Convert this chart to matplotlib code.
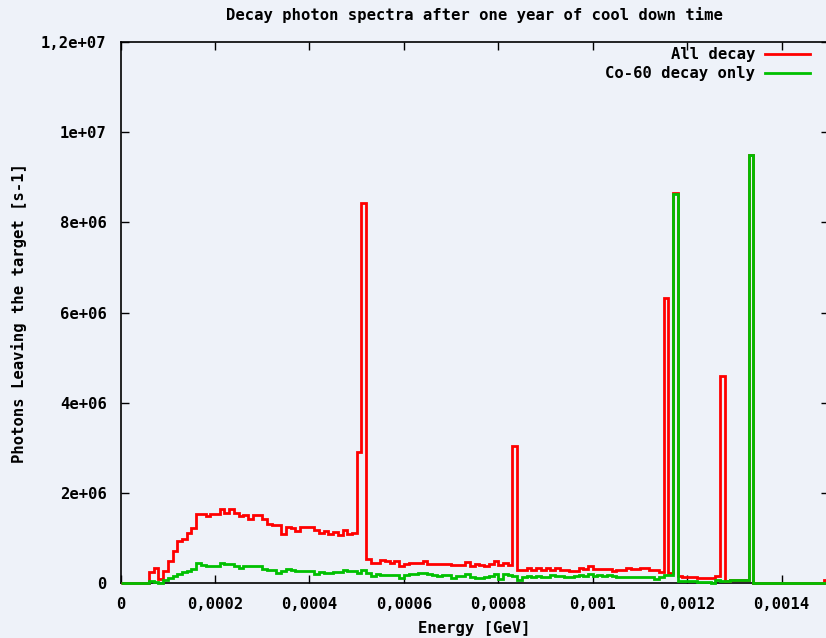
import numpy as np
import matplotlib
matplotlib.use("Agg")
import matplotlib.pyplot as plt
from matplotlib.lines import Line2D

# histogram: 150 bins of 10 keV between 0 and 0.0015 GeV
bin_width = 1e-5
n_bins = 150
energy_edges = np.arange(n_bins + 1) * bin_width

# All decay (photons / s per bin)
all_decay = [
    0, 0, 0, 0, 0, 0, 250e3, 347e3, 103e3, 273e3,
    495e3, 717e3, 939e3, 990e3, 1.12e6, 1.23e6, 1.53e6, 1.53e6, 1.49e6, 1.53e6,
    1.53e6, 1.64e6, 1.56e6, 1.64e6, 1.56e6, 1.49e6, 1.51e6, 1.43e6, 1.51e6, 1.51e6,
    1.43e6, 1.32e6, 1.29e6, 1.29e6, 1.10e6, 1.25e6, 1.23e6, 1.15e6, 1.25e6, 1.25e6,
    1.25e6, 1.18e6, 1.12e6, 1.16e6, 1.09e6, 1.14e6, 1.06e6, 1.18e6, 1.10e6, 1.12e6,
    2.91e6, 8.42e6, 547e3, 458e3, 458e3, 510e3, 488e3, 458e3, 495e3, 377e3,
    436e3, 451e3, 451e3, 451e3, 495e3, 436e3, 436e3, 421e3, 421e3, 421e3,
    399e3, 399e3, 399e3, 473e3, 384e3, 436e3, 414e3, 377e3, 436e3, 488e3,
    399e3, 458e3, 399e3, 3.05e6, 288e3, 288e3, 340e3, 288e3, 340e3, 288e3,
    340e3, 303e3, 340e3, 303e3, 303e3, 273e3, 273e3, 335e3, 310e3, 377e3,
    310e3, 310e3, 310e3, 310e3, 273e3, 288e3, 288e3, 347e3, 310e3, 310e3,
    347e3, 347e3, 288e3, 288e3, 251e3, 6.33e6, 230e3, 8.66e6, 155e3, 150e3,
    140e3, 140e3, 126e3, 126e3, 126e3, 126e3, 162e3, 4.60e6, 52e3, 81e3,
    67e3, 81e3, 81e3, 9.49e6, 0, 0, 0, 0, 0, 0,
    0, 0, 0, 0, 0, 0, 0, 0, 0, 70e3,
]

# Co-60 decay only
co60_decay = [
    0, 0, 0, 0, 0, 0, 40e3, 20e3, 10e3, 80e3,
    110e3, 155e3, 214e3, 250e3, 270e3, 320e3, 440e3, 400e3, 390e3, 390e3,
    385e3, 440e3, 420e3, 420e3, 377e3, 347e3, 377e3, 377e3, 392e3, 377e3,
    325e3, 288e3, 288e3, 229e3, 266e3, 325e3, 288e3, 266e3, 266e3, 266e3,
    266e3, 200e3, 251e3, 229e3, 229e3, 251e3, 251e3, 288e3, 266e3, 266e3,
    237e3, 288e3, 229e3, 155e3, 214e3, 192e3, 192e3, 192e3, 177e3, 118e3,
    177e3, 200e3, 200e3, 229e3, 237e3, 200e3, 177e3, 155e3, 177e3, 177e3,
    126e3, 162e3, 162e3, 200e3, 140e3, 118e3, 118e3, 140e3, 155e3, 214e3,
    104e3, 214e3, 177e3, 155e3, 81e3, 140e3, 162e3, 140e3, 162e3, 140e3,
    140e3, 177e3, 155e3, 155e3, 140e3, 140e3, 162e3, 192e3, 155e3, 214e3,
    162e3, 192e3, 162e3, 192e3, 155e3, 140e3, 140e3, 140e3, 140e3, 140e3,
    140e3, 140e3, 140e3, 89e3, 140e3, 175e3, 192e3, 8.62e6, 52e3, 52e3,
    60e3, 55e3, 30e3, 30e3, 30e3, 10e3, 81e3, 52e3, 52e3, 81e3,
    67e3, 81e3, 81e3, 9.49e6, 0, 0, 0, 0, 0, 0,
    0, 0, 0, 0, 0, 0, 0, 0, 0, 0,
]

series_labels = ["All decay", "Co-60 decay only"]
series_colors = ["#ff0000", "#00c000"]

x_ticks = [0, 0.0002, 0.0004, 0.0006, 0.0008, 0.001, 0.0012, 0.0014]
x_ticklabels = ["0", "0,0002", "0,0004", "0,0006", "0,0008", "0,001", "0,0012", "0,0014"]
y_ticks = [0, 2e6, 4e6, 6e6, 8e6, 1e7, 1.2e7]
y_ticklabels = ["0", "2e+06", "4e+06", "6e+06", "8e+06", "1e+07", "1,2e+07"]

bg = "#eef2f9"
plt.rcParams["font.family"] = ["DejaVu Sans Mono"]
plt.rcParams["font.weight"] = "bold"
plt.rcParams["axes.titleweight"] = "bold"
plt.rcParams["axes.labelweight"] = "bold"
fs = 11.2

fig = plt.figure(figsize=(8.26, 6.38), dpi=100, facecolor=bg)
# right edge of the frame falls just outside the picture, as in the original
ax = fig.add_axes([120.6 / 826, 1 - 583.3 / 638, 708.2 / 826, 541.3 / 638])
ax.set_facecolor(bg)

for vals, col in zip([all_decay, co60_decay], series_colors):
    ax.stairs(vals, energy_edges, color=col, lw=2.0, baseline=None,
              zorder=3, clip_on=False)

ax.set_xlim(0, 0.0015)
ax.set_ylim(0, 1.2e7)
ax.set_xticks(x_ticks)
ax.set_xticklabels(x_ticklabels)
ax.set_yticks(y_ticks)
ax.set_yticklabels(y_ticklabels)
ax.tick_params(direction="in", length=6, width=1.0, top=True, right=True,
               labelsize=fs, colors="black")
ax.tick_params(axis="x", pad=10)
ax.tick_params(axis="y", pad=10)
for sp in ax.spines.values():
    sp.set_linewidth(1.2)

ax.set_title("Decay photon spectra after one year of cool down time",
             fontsize=fs, pad=16)
ax.set_xlabel("Energy [GeV]", fontsize=fs, labelpad=6)
ax.set_ylabel("Photons Leaving the target [s-1]", fontsize=fs, labelpad=10)

# gnuplot style key: text right aligned, sample line to its right
for i, (lab, col) in enumerate(zip(series_labels, series_colors)):
    yk = 0.9778 - i * 0.0351
    ax.text(0.8958, yk, lab, transform=ax.transAxes, ha="right", va="center",
            fontsize=fs)
    ax.add_line(Line2D([0.9096, 0.9735], [yk, yk], transform=ax.transAxes,
                       color=col, lw=2.0))

fig.savefig("out.png", dpi=100, facecolor=bg)
